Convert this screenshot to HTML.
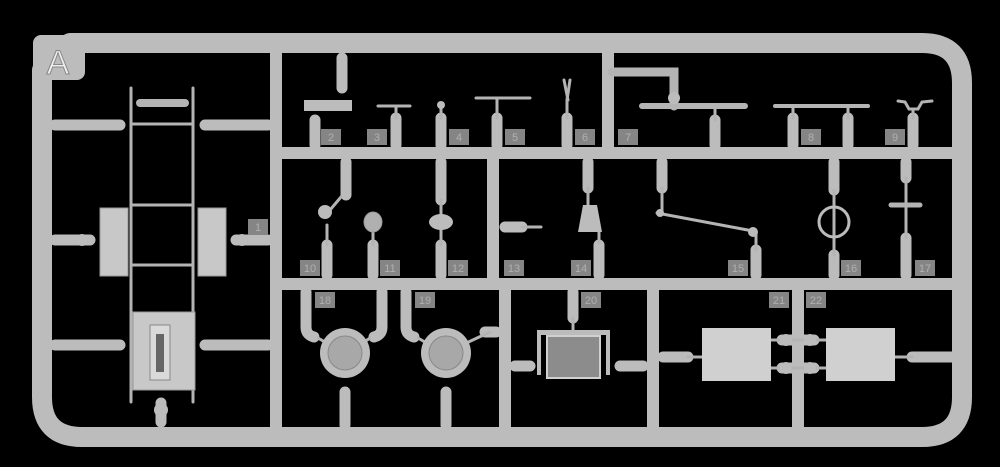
<!DOCTYPE html>
<html><head><meta charset="utf-8"><style>
html,body{margin:0;padding:0;background:#000;width:1000px;height:467px;overflow:hidden}
svg{display:block}
text{font-family:"Liberation Sans",sans-serif;font-size:11px;fill:#b0b0b0;text-anchor:middle}
</style></head><body>
<svg width="1000" height="467" viewBox="0 0 1000 467">
<rect width="1000" height="467" fill="#000"/>
<g fill="none" stroke="#bcbcbc" stroke-linecap="round">
<path d="M42 70 V397 Q42 437 82 437 H922 Q962 437 962 397 V83 Q962 43 922 43 H70" stroke-width="20"/>
<g stroke-width="12">
<line x1="276" y1="53" x2="276" y2="430"/>
<line x1="280" y1="153" x2="955" y2="153"/>
<line x1="280" y1="284" x2="955" y2="284"/>
<line x1="608" y1="53" x2="608" y2="150"/>
<line x1="493" y1="156" x2="493" y2="281"/>
<line x1="505" y1="287" x2="505" y2="430"/>
<line x1="653" y1="287" x2="653" y2="430"/>
<line x1="798" y1="287" x2="798" y2="430"/>
</g>
<g stroke-width="11">
<line x1="55" y1="125" x2="120" y2="125"/><line x1="205" y1="125" x2="268" y2="125"/>
<line x1="55" y1="240" x2="90" y2="240"/><line x1="236" y1="240" x2="268" y2="240"/>
<line x1="55" y1="345" x2="120" y2="345"/><line x1="205" y1="345" x2="268" y2="345"/>
<line x1="342" y1="58" x2="342" y2="88"/>
<line x1="315" y1="120" x2="315" y2="145"/>
<line x1="396" y1="118" x2="396" y2="145"/>
<line x1="441" y1="118" x2="441" y2="145"/>
<line x1="497" y1="118" x2="497" y2="145"/>
<line x1="567" y1="118" x2="567" y2="145"/>
<line x1="715" y1="120" x2="715" y2="145"/>
<line x1="793" y1="118" x2="793" y2="145"/>
<line x1="848" y1="118" x2="848" y2="145"/>
<line x1="913" y1="118" x2="913" y2="145"/>
<line x1="346" y1="162" x2="346" y2="195"/>
<line x1="441" y1="162" x2="441" y2="200"/>
<line x1="327" y1="245" x2="327" y2="275"/>
<line x1="373" y1="245" x2="373" y2="275"/>
<line x1="441" y1="245" x2="441" y2="275"/>
<line x1="505" y1="227" x2="522" y2="227"/>
<line x1="588" y1="162" x2="588" y2="188"/>
<line x1="599" y1="245" x2="599" y2="275"/>
<line x1="662" y1="162" x2="662" y2="188"/>
<line x1="756" y1="250" x2="756" y2="275"/>
<line x1="834" y1="162" x2="834" y2="190"/>
<line x1="834" y1="255" x2="834" y2="275"/>
<line x1="906" y1="162" x2="906" y2="178"/>
<line x1="906" y1="238" x2="906" y2="275"/>
<path d="M306 292 V327 Q306 335 314 337"/>
<path d="M382 292 V327 Q382 335 374 337"/>
<path d="M406 292 V327 Q406 335 414 337"/>
<line x1="485" y1="332" x2="496" y2="332"/>
<line x1="345" y1="392" x2="345" y2="425"/>
<line x1="446" y1="392" x2="446" y2="425"/>
<line x1="573" y1="292" x2="573" y2="318"/>
<line x1="515" y1="366" x2="530" y2="366"/>
<line x1="620" y1="366" x2="643" y2="366"/>
<line x1="663" y1="357" x2="688" y2="357"/>
<line x1="912" y1="357" x2="952" y2="357"/>
<line x1="782" y1="340" x2="814" y2="340"/>
<line x1="782" y1="368" x2="814" y2="368"/>
<line x1="161" y1="403" x2="161" y2="422"/>
</g>
<g stroke-width="3" stroke="#b4b4b4">
<line x1="131" y1="88" x2="131" y2="402"/><line x1="193" y1="88" x2="193" y2="402"/>
<line x1="131" y1="124" x2="193" y2="124"/><line x1="131" y1="205" x2="193" y2="205"/>
<line x1="131" y1="265" x2="193" y2="265"/><line x1="140" y1="103" x2="185" y2="103" stroke-width="8"/>
<line x1="378" y1="106" x2="410" y2="106"/><line x1="396" y1="106" x2="396" y2="118"/>
<line x1="476" y1="98" x2="530" y2="98"/><line x1="497" y1="98" x2="497" y2="118"/>
<line x1="441" y1="108" x2="441" y2="118"/>
<line x1="564" y1="80" x2="568" y2="100"/><line x1="570" y1="80" x2="567" y2="100"/><line x1="567" y1="100" x2="567" y2="118"/>
<line x1="642" y1="106" x2="745" y2="106" stroke-width="6"/>
<path d="M612 72 H674 V96 M674 96 V106" stroke-width="9"/>
<line x1="715" y1="106" x2="715" y2="120"/>
<line x1="775" y1="106" x2="868" y2="106" stroke-width="4"/>
<line x1="793" y1="106" x2="793" y2="118"/><line x1="848" y1="106" x2="848" y2="118"/>
<path d="M898 101 L905 102 L909 109 H918 L922 102 L932 101"/><line x1="913" y1="109" x2="913" y2="118"/>
<line x1="522" y1="227" x2="541" y2="227"/>
<line x1="657" y1="213" x2="753" y2="231"/>
<line x1="906" y1="178" x2="906" y2="238"/><line x1="891" y1="205" x2="920" y2="205" stroke-width="5"/>
<line x1="834" y1="190" x2="834" y2="255"/>
<line x1="327" y1="225" x2="327" y2="245"/><line x1="341" y1="197" x2="330" y2="210"/>
<line x1="373" y1="232" x2="373" y2="245"/>
<line x1="441" y1="200" x2="441" y2="245"/>
<line x1="588" y1="188" x2="588" y2="210"/><line x1="599" y1="232" x2="599" y2="245"/>
<line x1="662" y1="188" x2="662" y2="210"/><line x1="756" y1="232" x2="756" y2="250"/>
<line x1="318" y1="338" x2="330" y2="345"/><line x1="370" y1="338" x2="360" y2="345"/>
<line x1="418" y1="338" x2="430" y2="345"/><line x1="490" y1="332" x2="462" y2="345"/>
<line x1="573" y1="318" x2="573" y2="330"/>
<line x1="770" y1="340" x2="826" y2="340"/><line x1="770" y1="368" x2="826" y2="368"/>
<line x1="688" y1="357" x2="702" y2="357"/><line x1="895" y1="357" x2="912" y2="357"/>
</g>
</g>
<g fill="#bcbcbc">
<rect x="33" y="35" width="52" height="45" rx="8"/>
<rect x="100" y="208" width="28" height="68" fill="#c8c8c8" stroke="#999"/>
<rect x="198" y="208" width="28" height="68" fill="#c8c8c8" stroke="#999"/>
<circle cx="82" cy="240" r="6"/><circle cx="242" cy="240" r="6"/>
<rect x="133" y="312" width="62" height="78" fill="#c8c8c8" stroke="#999"/>
<rect x="150" y="325" width="20" height="55" fill="#dadada" stroke="#888"/>
<rect x="156" y="334" width="8" height="38" fill="#666"/>
<circle cx="161" cy="410" r="7"/>
<rect x="304" y="100" width="48" height="11"/>
<circle cx="441" cy="105" r="4"/>
<circle cx="674" cy="98" r="6"/>
<circle cx="325" cy="212" r="7"/>
<ellipse cx="373" cy="222" rx="9" ry="10" fill="#b0b0b0" stroke="#999"/>
<ellipse cx="441" cy="222" rx="12" ry="8"/>
<path d="M583 205 H597 L602 232 H578 Z"/>
<circle cx="599" cy="249" r="5"/>
<circle cx="753" cy="232" r="5"/><circle cx="660" cy="213" r="4"/>
<circle cx="834" cy="222" r="15" fill="none" stroke="#bcbcbc" stroke-width="3"/>
<circle cx="345" cy="353" r="25"/><circle cx="345" cy="353" r="17" fill="#a8a8a8" stroke="#888"/>
<circle cx="446" cy="353" r="25"/><circle cx="446" cy="353" r="17" fill="#a8a8a8" stroke="#888"/>
<rect x="537" y="330" width="73" height="5"/>
<rect x="537" y="330" width="4" height="45"/><rect x="606" y="330" width="4" height="45"/>
<rect x="547" y="336" width="53" height="42" fill="#8c8c8c" stroke="#d0d0d0" stroke-width="2"/>
<rect x="702" y="328" width="69" height="53" fill="#d0d0d0"/>
<rect x="826" y="328" width="69" height="53" fill="#d0d0d0"/>
<circle cx="786" cy="340" r="6"/><circle cx="810" cy="340" r="6"/>
<circle cx="786" cy="368" r="6"/><circle cx="810" cy="368" r="6"/>
</g>
<text x="58" y="74" style="font-size:34px;fill:#eee;stroke:#888;stroke-width:1">A</text>
<g fill="#858585">
<rect x="248" y="219" width="20" height="16"/>
<rect x="321" y="129" width="20" height="16"/><rect x="367" y="129" width="20" height="16"/>
<rect x="449" y="129" width="20" height="16"/><rect x="505" y="129" width="20" height="16"/>
<rect x="575" y="129" width="20" height="16"/><rect x="618" y="129" width="20" height="16"/>
<rect x="801" y="129" width="20" height="16"/><rect x="885" y="129" width="20" height="16"/>
<rect x="300" y="260" width="20" height="16"/><rect x="380" y="260" width="20" height="16"/>
<rect x="448" y="260" width="20" height="16"/><rect x="504" y="260" width="20" height="16"/>
<rect x="571" y="260" width="20" height="16"/><rect x="728" y="260" width="20" height="16"/>
<rect x="841" y="260" width="20" height="16"/><rect x="915" y="260" width="20" height="16"/>
<rect x="315" y="292" width="20" height="16"/><rect x="415" y="292" width="20" height="16"/>
<rect x="581" y="292" width="20" height="16"/><rect x="769" y="292" width="20" height="16"/>
<rect x="806" y="292" width="20" height="16"/>
</g>
<g>
<text x="258" y="231">1</text>
<text x="331" y="141">2</text><text x="377" y="141">3</text><text x="459" y="141">4</text>
<text x="515" y="141">5</text><text x="585" y="141">6</text><text x="628" y="141">7</text>
<text x="811" y="141">8</text><text x="895" y="141">9</text>
<text x="310" y="272">10</text><text x="390" y="272">11</text><text x="458" y="272">12</text>
<text x="514" y="272">13</text><text x="581" y="272">14</text><text x="738" y="272">15</text>
<text x="851" y="272">16</text><text x="925" y="272">17</text>
<text x="325" y="304">18</text><text x="425" y="304">19</text><text x="591" y="304">20</text>
<text x="779" y="304">21</text><text x="816" y="304">22</text>
</g>
</svg>
</body></html>
